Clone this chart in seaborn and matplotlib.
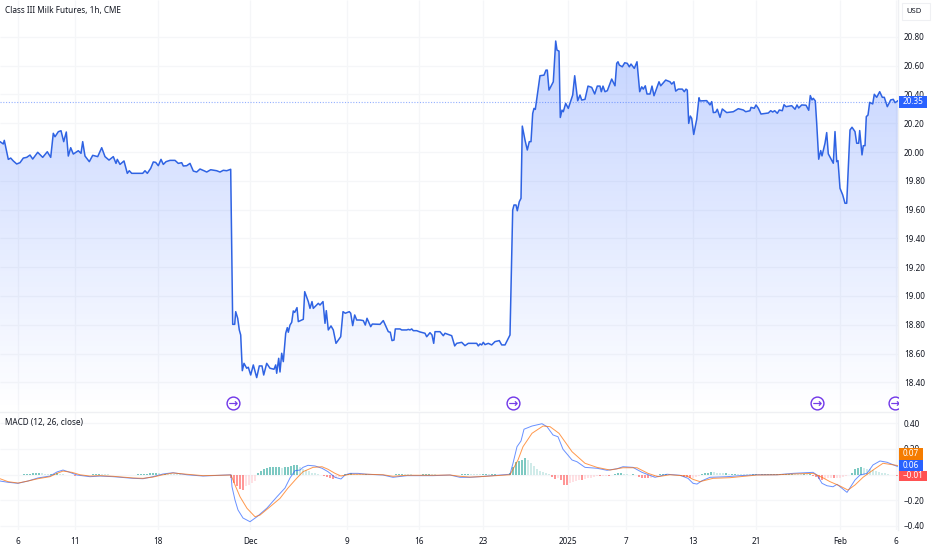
import numpy as np
import matplotlib
matplotlib.use("Agg")
import matplotlib.pyplot as plt
from matplotlib.colors import LinearSegmentedColormap
from matplotlib.patches import Rectangle
import seaborn as sns

# price line (x = bar position on the time scale)
price_x1 = [0, 3.3, 4.3, 6, 8.3, 10.7, 13.3, 16.7, 20, 23.3, 26.7, 30, 32.7, 37.7, 42.7, 47.3, 50.7, 53.3, 55, 58.3, 61, 63.7, 66.3, 68.3, 70.7, 73.3, 78.3, 81, 82.7, 85, 89.3, 92.7, 97.7, 101.7, 105, 109, 113.3, 116, 117.3, 120, 124, 127.3, 129.3, 131.7, 142.7, 145, 147.3, 150.7, 153.3, 155.7, 158.3, 161, 163.3, 166, 170, 175, 178.3, 181.7, 183.3, 186.7, 190, 193.3, 196.7, 200, 204, 206.7, 210.7, 216.7, 220, 223.3, 226.7, 230.7]
price_y1 = [20.072, 20.056, 20.081, 20.025, 19.949, 19.958, 19.938, 19.917, 19.926, 19.958, 19.963, 19.979, 19.951, 19.998, 19.963, 20.002, 19.963, 20.130, 20.106, 20.141, 20.148, 20.072, 20.139, 19.972, 20.03, 19.986, 20.009, 19.991, 20.072, 19.972, 19.933, 19.977, 19.968, 20.03, 19.968, 19.944, 19.968, 19.921, 19.949, 19.914, 19.938, 19.852, 19.870, 19.852, 19.852, 19.870, 19.852, 19.887, 19.931, 19.928, 19.905, 19.949, 19.914, 19.933, 19.942, 19.942, 19.921, 19.926, 19.903, 19.905, 19.921, 19.868, 19.861, 19.882, 19.870, 19.861, 19.877, 19.870, 19.861, 19.873, 19.870, 19.880]
price_x2 = [232.7, 234.7, 235.7, 237.7, 239.3, 240.7, 242.3, 244, 246.7, 248.3, 250.7, 253.3, 256.7, 259.3, 262, 263.7, 266.7, 270, 274, 275.7, 276.7, 278.7, 280, 281.7, 283.3, 285.7, 287.3, 288.3, 290, 291.7, 293.3, 294.7, 297, 298.3, 303.3, 304.7, 308.3, 310, 312, 313.3, 318.3, 320, 323, 325, 326.3, 328.3, 331, 333.3, 336, 340.7, 343, 345.3, 349.3, 350.7, 352.7, 354.7, 356.7, 360, 363.3, 365.3, 367, 370.7, 372.3, 380, 383.3, 388.3, 390.3, 392, 394, 395.3, 400, 401.7, 406.7, 408.3, 410, 411.7, 413.3, 416.7, 420, 425, 426.7, 430, 432, 433.7, 435, 440, 443.3, 445, 451.7, 454.7, 456.7, 461.7, 465, 468.3, 476.7, 478.3, 480, 481.7, 483.3, 485, 488.3, 491.7, 495, 499.3, 501.7, 505, 510]
price_y2 = [18.803, 18.803, 18.891, 18.845, 18.764, 18.729, 18.481, 18.532, 18.498, 18.505, 18.451, 18.521, 18.433, 18.514, 18.514, 18.451, 18.532, 18.498, 18.491, 18.521, 18.463, 18.567, 18.472, 18.602, 18.544, 18.741, 18.780, 18.748, 18.798, 18.817, 18.896, 18.886, 18.919, 18.822, 18.838, 19.030, 18.961, 18.914, 18.961, 18.914, 18.949, 18.937, 18.961, 18.810, 18.898, 18.764, 18.792, 18.764, 18.671, 18.717, 18.891, 18.880, 18.891, 18.880, 18.794, 18.868, 18.833, 18.833, 18.829, 18.798, 18.845, 18.787, 18.805, 18.803, 18.829, 18.752, 18.748, 18.690, 18.694, 18.771, 18.771, 18.764, 18.764, 18.768, 18.764, 18.771, 18.759, 18.759, 18.750, 18.741, 18.717, 18.745, 18.729, 18.671, 18.752, 18.752, 18.724, 18.741, 18.724, 18.653, 18.671, 18.678, 18.655, 18.671, 18.671, 18.653, 18.667, 18.660, 18.678, 18.662, 18.671, 18.660, 18.683, 18.690, 18.660, 18.660, 18.729]
price_x3 = [512.7, 514, 516, 517.3, 519.3, 521, 522.3, 525, 527.3, 529.3, 531, 532.7, 534, 535.3, 540, 544, 546, 547.3, 549, 553.3, 555.7, 557, 559, 560.3, 562, 563.3, 565.7, 568.3, 572.7, 574.7, 577.7, 580, 581.7, 585, 588, 591.7, 594.7, 597.3, 600, 601.3, 603, 605, 607.3, 611.7, 615, 616.7, 618, 619.3, 622.3, 624.7, 627.3, 629.3, 631, 634.3, 637, 639.7, 641.7, 643.3, 645.3, 647, 650, 652, 654, 659, 660.7, 665.7, 670, 671.7, 674, 675.7, 678.3, 682.3, 684.3, 686, 687.3, 688.7, 690.3, 691.7, 693.7, 696.7, 699]
price_y3 = [19.597, 19.632, 19.632, 19.592, 19.655, 19.678, 20.180, 20.083, 20.014, 20.072, 20.072, 20.268, 20.303, 20.296, 20.530, 20.534, 20.569, 20.569, 20.430, 20.488, 20.771, 20.708, 20.701, 20.240, 20.291, 20.280, 20.338, 20.303, 20.396, 20.530, 20.356, 20.396, 20.361, 20.366, 20.458, 20.449, 20.403, 20.458, 20.458, 20.419, 20.458, 20.419, 20.426, 20.507, 20.460, 20.616, 20.627, 20.604, 20.592, 20.620, 20.616, 20.592, 20.611, 20.581, 20.627, 20.419, 20.453, 20.437, 20.460, 20.403, 20.403, 20.458, 20.391, 20.488, 20.460, 20.500, 20.488, 20.472, 20.488, 20.423, 20.437, 20.437, 20.419, 20.437, 20.430, 20.199, 20.250, 20.234, 20.122, 20.227, 20.377]
price_x4 = [700, 706.7, 710, 711.7, 713.3, 715.7, 717.3, 720, 722.3, 726.7, 733.3, 738.3, 743.3, 745.7, 750, 751, 754.3, 756, 758.3, 761, 768.3, 770.7, 772.7, 774.7, 777.3, 779.3, 782.3, 784, 786, 791.7, 795, 797, 798.7, 801.7, 806, 808.7, 810.3, 812, 813.3, 815.3, 816.7, 818.7, 820.7, 822, 825, 826.7, 828.3, 833.3, 835, 836.7, 838, 840, 842.7, 845, 846.7, 850, 852, 855, 856.7, 858.7, 859.7, 862, 863.3, 865, 866.3, 868, 869.7, 872.7, 874.3, 876.7, 879.7, 882.3, 884.3, 887.3, 890.7, 893.3, 895, 896.7, 898]
price_y4 = [20.355, 20.357, 20.327, 20.350, 20.274, 20.276, 20.297, 20.241, 20.299, 20.274, 20.280, 20.301, 20.292, 20.280, 20.287, 20.310, 20.304, 20.327, 20.304, 20.264, 20.271, 20.287, 20.278, 20.287, 20.269, 20.292, 20.287, 20.329, 20.315, 20.322, 20.297, 20.327, 20.306, 20.327, 20.325, 20.290, 20.392, 20.362, 20.373, 20.355, 20.200, 19.950, 20.010, 19.973, 20.061, 20.135, 19.987, 19.922, 20.142, 19.933, 19.940, 19.748, 19.702, 19.644, 19.644, 20.153, 20.172, 20.142, 20.061, 20.061, 20.149, 19.980, 20.044, 20.044, 20.246, 20.257, 20.345, 20.334, 20.401, 20.380, 20.419, 20.380, 20.380, 20.315, 20.362, 20.366, 20.343, 20.350, 20.357]
last_price = 20.35

# MACD and signal lines
macd_x = [0, 8, 18, 28, 38, 50, 57, 63, 68, 77, 90, 100, 113, 133, 143, 153, 163, 173, 187, 203, 220, 231, 232, 235, 238, 243, 250, 257, 267, 277, 285, 290, 295, 300, 303, 308, 315, 322, 328, 335, 341, 345, 350, 358, 367, 383, 393, 407, 433, 450, 460, 470, 480, 510, 513, 517, 521, 524, 532, 542, 547, 553, 558, 563, 572, 577, 585, 597, 607, 617, 623, 633, 642, 655, 667, 680, 688, 693, 697, 702, 710, 727, 740, 757, 777, 793, 813, 817, 822, 827, 833, 837, 842, 847, 849, 855, 860, 867, 873, 880, 887, 898]
macd_y = [-0.051, -0.061, -0.069, -0.051, -0.027, -0.012, 0.020, 0.035, 0.022, -0.004, -0.017, -0.012, -0.017, -0.030, -0.033, -0.017, 0.004, 0.014, -0.002, -0.012, -0.006, -0.002, -0.096, -0.200, -0.278, -0.341, -0.370, -0.331, -0.263, -0.174, -0.106, -0.027, 0.030, 0.035, 0.056, 0.072, 0.067, 0.049, 0.022, -0.022, -0.035, -0.004, 0.009, 0.009, 0.002, -0.004, -0.022, -0.009, -0.009, -0.004, -0.022, -0.022, -0.017, 0.002, 0.088, 0.218, 0.263, 0.355, 0.380, 0.398, 0.375, 0.310, 0.296, 0.198, 0.114, 0.100, 0.056, 0.049, 0.033, 0.045, 0.061, 0.056, 0.017, -0.022, 0.002, -0.006, -0.030, -0.069, -0.075, -0.049, -0.022, -0.017, -0.009, -0.002, -0.002, 0.009, 0.017, -0.004, -0.069, -0.088, -0.096, -0.077, -0.108, -0.140, -0.116, -0.043, -0.004, 0.009, 0.075, 0.106, 0.096, 0.061]
signal_x = [0, 8, 18, 28, 38, 50, 57, 63, 72, 80, 90, 100, 113, 133, 143, 153, 163, 173, 187, 203, 220, 231, 235, 240, 247, 255, 260, 270, 280, 288, 297, 303, 313, 322, 328, 335, 341, 350, 367, 383, 393, 407, 433, 450, 460, 470, 480, 510, 518, 523, 532, 543, 550, 559, 572, 585, 597, 610, 623, 637, 648, 658, 670, 687, 693, 700, 713, 730, 757, 777, 793, 813, 822, 830, 840, 848, 855, 863, 873, 883, 898]
signal_y = [-0.033, -0.056, -0.067, -0.051, -0.033, -0.017, 0.009, 0.027, 0.017, -0.002, -0.012, -0.009, -0.014, -0.027, -0.030, -0.020, -0.002, 0.012, 0.002, -0.009, -0.006, -0.004, -0.082, -0.174, -0.265, -0.331, -0.318, -0.253, -0.187, -0.106, -0.027, 0.022, 0.056, 0.061, 0.041, 0.009, -0.012, 0.002, 0.002, -0.002, -0.014, -0.006, -0.006, -0.004, -0.014, -0.020, -0.017, -0.002, 0.114, 0.218, 0.323, 0.380, 0.375, 0.323, 0.179, 0.088, 0.056, 0.035, 0.053, 0.053, 0.009, -0.017, -0.002, -0.012, -0.038, -0.056, -0.030, -0.025, -0.004, -0.002, 0.004, 0.009, -0.022, -0.056, -0.090, -0.122, -0.082, -0.022, 0.035, 0.088, 0.070]

# histogram, one value every 3 positions from 0
hist_vals = [
    -.004, -.006, -.006, -.005, -.004, -.003, -.002, -.002, .002, .004,
    .006, .008, .010, .012, .008, .004, .003, .004, .006, .008,
    .006, .003, -.003, -.005, -.007, -.008, -.006, -.004, -.003, -.002,
    -.002, .002, .004, .006, .004, .002, .001, -.002, -.003, -.004,
    -.005, -.005, -.004, -.003, -.002, -.002, .002, .003, .004, .006,
    .008, .010, .012, .009, .006, .006, .005, .004, .003, .002,
    .001, -.001, -.002, -.003, -.003, -.002, -.002, -.002, -.001, -.001,
    -.001, -.001, -.001, 0, 0, 0, 0, -.03, -.07, -.09,
    -.11, -.125, -.09, -.08, -.07, -.05, .008, .025, .04, .05,
    .055, .055, .055, .055, .05, .055, .06, .07, .075, .075,
    .06, .045, .035, .025, .015, .008, .004, -.005, -.012, -.02,
    -.03, -.035, -.025, -.018, -.01, .004, .006, .008, .006, .004,
    .003, .002, .002, .001, -.001, -.002, -.002, -.002, -.003, -.003,
    -.004, -.005, .004, .006, .006, .005, .004, .002, -.002, -.003,
    -.003, .003, .004, .004, .003, .002, -.002, -.002, -.001, -.001,
    -.003, -.004, -.005, -.005, .004, .005, .006, .005, .004, .003,
    .002, .002, .002, .001, .001, .001, 0, 0, 0, 0,
    .01, .06, .10, .105, .115, .127, .115, .09, .07, .04,
    .03, .02, .012, .004, -.02, -.035, -.03, -.045, -.085, -.085,
    -.07, -.055, -.05, -.04, -.04, -.035, -.03, -.025, -.018, -.012,
    -.012, -.01, -.008, -.008, -.005, .005, .008, .008, .006, .005,
    -.003, .002, -.006, -.016, -.025, -.03, -.03, -.025, -.018, -.01,
    .004, .004, .004, .003, -.002, -.004, -.006, -.012, -.016, -.02,
    -.03, -.025, -.02, -.01, .006, .01, .015, .02, .018, .012,
    .01, .008, .008, .006, .006, .007, .006, .005, .004, .003,
    .002, .002, .002, .001, .001, .001, .002, .002, .002, .003,
    .003, .004, .005, .006, .006, .005, .004, .003, .003, .002,
    .002, -.01, -.02, -.035, -.04, -.038, -.03, -.028, -.03, -.028,
    -.025, -.02, -.015, -.006, .015, .04, .05, .055, .05, .045,
    .04, .035, .03, .02, .012, .008, .004, -.003, -.006, -.01,
]

date_pos = [18, 75, 158, 250, 347, 419, 483, 568, 626, 693, 756, 840, 896]
date_labels = ["6", "11", "18", "Dec", "9", "16", "23", "2025", "7", "13", "21", "Feb", "6"]
price_ticks = [18.4, 18.6, 18.8, 19.0, 19.2, 19.4, 19.6, 19.8, 20.0, 20.2, 20.4, 20.6, 20.8]
macd_ticks = [-0.4, -0.2, 0.2, 0.4]
session_pos = [233, 513, 817, 895]

W, H = 932, 550
PANE_W = 898
BLUE = "#2962ff"
LINE = "#2f63e3"
ORANGE = "#f57c00"
RED = "#ff5252"
PURPLE = "#6f35e8"
GRID = "#f5f6f8"
TXT = "#131722"
FS = 5.9

sns.set_theme(style="white")
plt.rcParams["font.family"] = ["Noto Sans", "DejaVu Sans"]

fig = plt.figure(figsize=(W / 100, H / 100), dpi=100, facecolor="white")
ax = fig.add_axes([0, 1 - 411 / H, PANE_W / W, 411 / H])
ax2 = fig.add_axes([0, 1 - 530 / H, PANE_W / W, 118 / H])

price_x = price_x1 + price_x2 + price_x3 + price_x4
price_y = price_y1 + price_y2 + price_y3 + price_y4

# price pane
y_min, y_max = 18.201, 21.056
ax.set_xlim(0, PANE_W)
ax.set_ylim(y_min, y_max)
ax.vlines(date_pos, y_min, y_max, color=GRID, lw=0.9, zorder=0)
ax.hlines(price_ticks, 0, PANE_W, color=GRID, lw=0.9, zorder=0)

# area under the line fades down to white
area = ax.fill_between(price_x, price_y, y_min, color="none", lw=0)
cmap = LinearSegmentedColormap.from_list("fade", [(0.161, 0.384, 1.0, 0.30), (0.161, 0.384, 1.0, 0.0)])
grad = ax.imshow(np.linspace(0, 1, 256).reshape(-1, 1), cmap=cmap, aspect="auto",
                 extent=(0, PANE_W, y_min, y_max), origin="upper", zorder=1)
grad.set_clip_path(area.get_paths()[0], transform=ax.transData)

sns.lineplot(x=price_x, y=price_y, ax=ax, color=LINE, lw=1.1, sort=False, estimator=None, zorder=3)
ax.axhline(last_price, color=BLUE, lw=0.8, ls=(0, (1, 1.5)), alpha=0.5, zorder=2)

# session break icons
session_y = [18.257] * len(session_pos)
ax.scatter(session_pos, session_y, s=85, facecolor="white", edgecolor=PURPLE, lw=1, zorder=4)
ax.scatter(session_pos, session_y, s=34, marker=r"$\rightarrow$", color=PURPLE, lw=0.2, zorder=5)

ax.yaxis.tick_right()
ax.set_yticks(price_ticks)
ax.set_yticklabels([f"{t:.2f}" for t in price_ticks])
ax.set_xticks([])
ax.tick_params(axis="y", length=0, pad=4.3, labelsize=FS, labelcolor=TXT)
ax.set_xlabel("")
ax.set_ylabel("")

# MACD pane
m_min, m_max = -0.435, 0.49
ax2.set_xlim(0, PANE_W)
ax2.set_ylim(m_min, m_max)
ax2.vlines(date_pos, m_min, m_max, color=GRID, lw=0.9, zorder=0)
ax2.hlines([-0.4, -0.2, 0, 0.2, 0.4], 0, PANE_W, color=GRID, lw=0.9, zorder=0)

hist_x = [i * 3 for i in range(len(hist_vals))]
hist_colors = []
for i, v in enumerate(hist_vals):
    prev = hist_vals[i - 1] if i else v
    if v >= 0:
        hist_colors.append("#26a69a" if v >= prev else "#b2dfdb")
    else:
        hist_colors.append("#ff5252" if v <= prev else "#ffcdd2")
ax2.bar(hist_x, hist_vals, width=1.3, color=hist_colors, alpha=0.6, lw=0, zorder=1)
sns.lineplot(x=macd_x, y=macd_y, ax=ax2, color=BLUE, lw=0.7, alpha=0.7, sort=False, estimator=None, zorder=2)
sns.lineplot(x=signal_x, y=signal_y, ax=ax2, color="#ff6d00", lw=0.7, alpha=0.7, sort=False, estimator=None, zorder=3)

ax2.yaxis.tick_right()
ax2.set_yticks(macd_ticks)
ax2.set_yticklabels([f"{t:.2f}".replace("-", "\u2212") for t in macd_ticks])
ax2.set_xticks(date_pos)
ax2.set_xticklabels(date_labels)
ax2.get_xticklabels()[7].set_fontweight("bold")
ax2.tick_params(axis="y", length=0, pad=4.3, labelsize=FS, labelcolor=TXT)
ax2.tick_params(axis="x", length=0, pad=5, labelsize=FS, labelcolor=TXT)

for a in (ax, ax2):
    for name, spine in a.spines.items():
        spine.set_visible(name in ("top", "right"))
        spine.set_color("#eff0f3")
        spine.set_linewidth(1)
ax.spines["top"].set_visible(False)


def fx(px):
    return px / W


def fy(py):
    return 1 - py / H


def price_tag(label, left, top, right, bottom, color):
    # coloured tag on the right scale, drawn over the tick labels
    fig.add_artist(Rectangle((fx(left), fy(bottom)), (right - left) / W, (bottom - top) / H,
                             transform=fig.transFigure, fc=color, ec="none", zorder=5))
    fig.text(fx(left + 4), fy((top + bottom) / 2), label, fontsize=FS, color="white",
             va="center", ha="left", zorder=6)


# titles and price tags
fig.text(fx(5), fy(10.5), "Class III Milk Futures, 1h, CME", fontsize=5.9, color=TXT, va="center",
         fontweight="semibold")
fig.text(fx(5), fy(423), "MACD (12, 26, close)", fontsize=5.9, color=TXT, va="center")
fig.add_artist(Rectangle((fx(902), fy(20)), 28 / W, 17 / H, transform=fig.transFigure,
                         fc="white", ec="#eff0f3", lw=0.8))
fig.text(fx(914), fy(11.5), "USD", fontsize=5.5, color=TXT, va="center", ha="center")
price_tag("20.35", 899, 96, 927, 108, BLUE)
price_tag("0.07", 899, 448, 923, 460, ORANGE)
price_tag("0.06", 899, 460, 923, 471, BLUE)
price_tag("\u22120.01", 899, 471, 927, 481, RED)

fig.savefig("out.png", dpi=100)
